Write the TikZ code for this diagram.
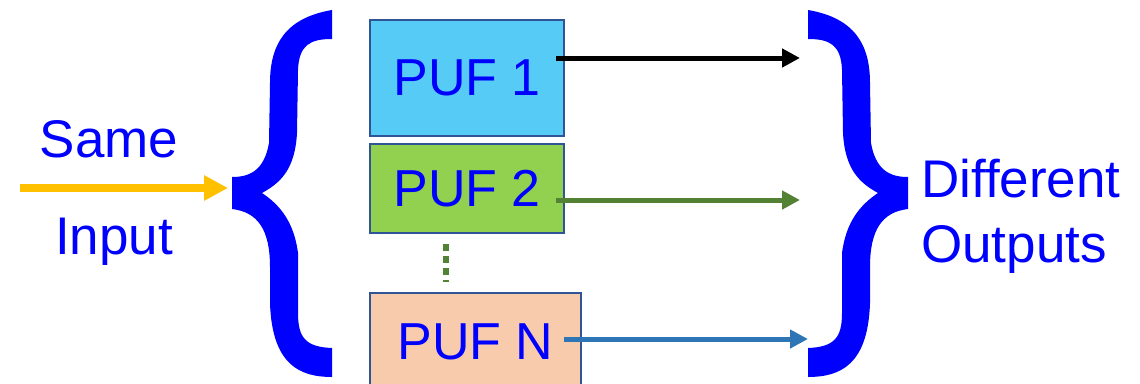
\documentclass[tikz,border=0pt]{standalone}
\usepackage{fontspec}
\setmainfont{Liberation Sans}
\usetikzlibrary{arrows.meta}

\definecolor{txtblue}{HTML}{0000FF}
\definecolor{boxline}{HTML}{2F5597}
\definecolor{pufcyan}{HTML}{55CBF5}
\definecolor{pufgreen}{HTML}{92D050}
\definecolor{pufpeach}{HTML}{F8CBAD}
\definecolor{outgreen}{HTML}{548235}
\definecolor{outblue}{HTML}{2E75B6}
\definecolor{ingold}{HTML}{FFC000}

\tikzset{
  pufbox/.style={draw=boxline, line width=2.5pt, text=txtblue, inner sep=0pt,
    font=\fontsize{52}{60}\selectfont},
  label/.style={text=txtblue, inner sep=0pt, font=\fontsize{53}{60}\selectfont},
  outarrow/.style={line width=5pt, -{Triangle[length=18pt,width=18pt]}},
  bracefill/.style={fill=txtblue, draw=none}
}

% one curly brace, opening to the right, tip at x=232
\newcommand{\bracepath}{
  (332,10) .. controls (285,18) and (270,45) .. (270,83)
  -- (269,143) .. controls (264,172) and (248,177) .. (232,177)
  -- (232,209) .. controls (258,212) and (270,230) .. (270,267)
  -- (270,303) .. controls (272,365) and (300,377) .. (332,377)
  -- (332,348) .. controls (305,347) and (298,337) .. (298,313)
  -- (298,253) .. controls (294,222) and (280,205) .. (262,193)
  .. controls (280,183) and (295,170) .. (297,133)
  -- (298,70) .. controls (299,45) and (310,39) .. (332,39) -- cycle}

\begin{document}
\begin{tikzpicture}[x=1pt,y=1pt,yscale=-1]
\useasboundingbox (0,0) rectangle (1140,383);

%% braces
\fill[bracefill] \bracepath;
\begin{scope}[shift={(1140,0)}, xscale=-1]
  \fill[bracefill] \bracepath;
\end{scope}

%% PUF boxes
\node[pufbox, fill=pufcyan, minimum width=194pt, minimum height=116pt] (p1) at (467,78) {PUF 1};
\node[pufbox, fill=pufgreen, minimum width=194pt, minimum height=89pt] (p2) at (467,188.5) {PUF 2};
\node[pufbox, fill=pufpeach, minimum width=211pt, minimum height=97pt] (pN) at (475.5,341.5) {PUF N};

% dotted gap between PUF 2 and PUF N
\coordinate (dx) at (446,0);
\draw[outgreen, line width=6pt, dash pattern=on 7pt off 5pt, shorten <=10pt, shorten >=10pt]
  (p2.south -| dx) -- (pN.north -| dx);

%% outputs
\coordinate (o1) at (800,58);
\coordinate (o2) at (800,200);
\coordinate (oN) at (808,339);
\draw[outarrow, black] ([xshift=-9pt]p1.east |- o1) -- (o1);
\draw[outarrow, outgreen] ([xshift=-9pt]p2.east |- o2) -- (o2);
\draw[outarrow, outblue] ([xshift=-18pt]pN.east |- oN) -- (oN);

%% input side
\coordinate (in0) at (20,188);
\coordinate (in1) at (228,188);
\draw[ingold, line width=8pt, -{Triangle[length=24pt,width=24pt]}] (in0) -- (in1);
\node[label, anchor=base] (same) at (109,157) {Same};
\node[label, anchor=base] (input) at (114,254) {Input};

%% output labels
\node[label, anchor=base west] (diff) at (921,197) {Different};
\node[label, anchor=base west] (outs) at (921,262) {Outputs};

\end{tikzpicture}
\end{document}
